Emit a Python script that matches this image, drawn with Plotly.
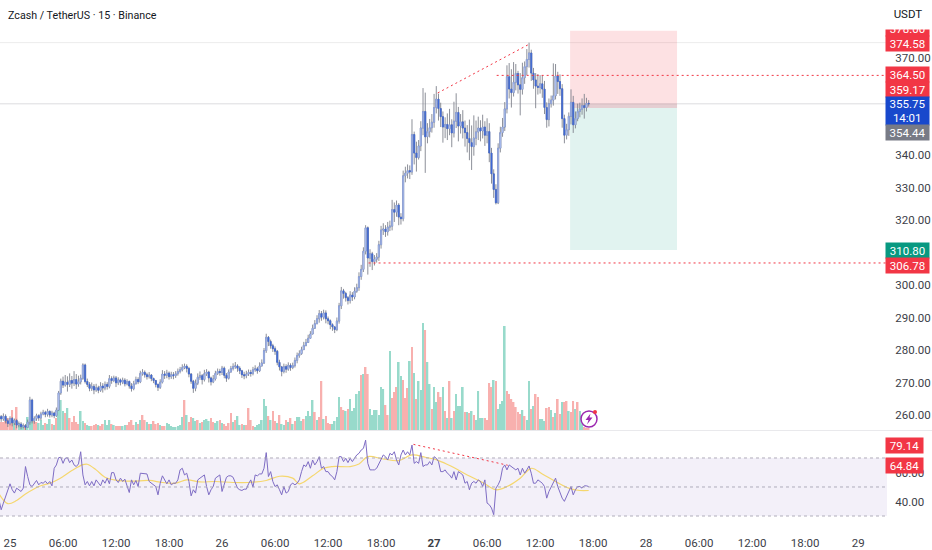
import pandas as pd
import plotly.graph_objects as go
from plotly.subplots import make_subplots

closes = [
    259.5, 258.8, 259.6, 258.2, 257.4, 258.9, 257.6, 258.3, 256.9, 257.2,
    256.4, 256.7, 256.2, 257.8, 264.6, 258.2, 258.9, 259.8, 259.1, 260.3,
    260.8, 260.2, 261.1, 260.0, 260.6, 259.8, 261.5, 266.8, 270.4, 269.2,
    270.1, 269.4, 270.6, 269.8, 270.9, 269.5, 270.2, 271.3, 275.4, 270.3,
    269.4, 268.2, 268.8, 267.7, 268.4, 267.6, 268.9, 268.3, 269.4, 268.8,
    271.2, 270.6, 271.4, 269.9, 270.8, 270.1, 270.7, 269.6, 270.3, 268.9,
    268.1, 269.6, 270.9, 270.2, 272.8, 273.1, 272.4, 271.8, 272.3, 271.2,
    270.6, 269.4, 268.5, 270.1, 272.6, 272.2, 272.9, 271.8, 272.4, 272.1,
    272.7, 273.4, 273.9, 274.6, 275.0, 274.3, 272.6, 270.4, 268.2, 269.8,
    271.6, 272.1, 270.9, 272.7, 273.2, 271.4, 270.2, 271.1, 272.8, 273.4,
    273.1, 274.4, 272.2, 271.3, 273.2, 274.3, 274.9, 275.1, 274.4, 273.6,
    272.4, 272.1, 272.6, 273.1, 272.8, 273.9, 274.2, 273.6, 275.1, 276.0,
    279.8, 283.9, 282.6, 281.3, 280.4, 279.6, 276.2, 274.8, 273.4, 274.9,
    274.1, 275.3, 274.6, 275.2, 276.8, 278.3, 278.9, 280.1, 281.4, 282.3,
    283.6, 284.9, 286.7, 288.1, 289.6, 291.2, 290.1, 291.4, 289.6, 289.0,
    287.8, 287.1, 286.3, 288.9, 293.6, 298.2, 297.4, 296.1, 295.2, 296.9,
    296.3, 298.1, 299.2, 302.6, 304.8, 310.4, 317.6, 308.3, 309.6, 307.2,
    307.9, 308.6, 312.4, 316.9, 317.2, 316.4, 317.8, 318.1, 323.2, 322.4,
    324.6, 320.9, 320.4, 333.6, 334.4, 335.2, 334.8, 346.3, 340.6, 339.2,
    342.8, 348.3, 353.4, 345.6, 347.2, 348.4, 350.1, 354.6, 357.2, 354.3,
    351.8, 348.6, 349.4, 348.1, 349.3, 346.8, 350.4, 353.1, 348.9, 350.2,
    348.3, 346.9, 345.1, 343.8, 342.6, 345.2, 347.1, 348.3, 347.4, 348.6,
    346.1, 347.2, 340.6, 334.2, 329.4, 325.3, 342.1, 346.9, 348.6, 354.2,
    364.1, 360.3, 359.2, 362.4, 365.1, 361.6, 360.2, 363.8, 367.2, 369.4,
    371.4, 365.2, 363.1, 361.2, 360.8, 361.9, 360.3, 354.6, 350.9, 355.8,
    356.9, 358.2, 364.3, 362.6, 360.4, 351.2, 346.1, 347.8, 351.9, 356.2,
    349.3, 351.2, 353.4, 354.1, 355.2, 354.6, 355.9, 355.75,
]
highs = [
    261.0, 260.0, 260.5, 260.2, 258.9, 259.6, 259.4, 258.9, 258.8, 258.0,
    257.8, 257.4, 257.2, 258.6, 265.6, 265.0, 259.6, 260.4, 260.2, 261.0,
    261.6, 261.3, 261.9, 261.4, 261.3, 261.0, 262.3, 267.4, 271.2, 271.8,
    272.3, 271.9, 272.8, 272.0, 273.5, 272.6, 272.1, 272.4, 275.9, 275.8,
    271.2, 270.1, 270.0, 269.5, 269.6, 269.0, 270.1, 269.8, 270.3, 270.1,
    272.3, 271.9, 272.1, 272.0, 271.6, 271.2, 271.5, 271.3, 271.0, 270.6,
    269.8, 270.5, 271.8, 271.6, 273.6, 274.1, 273.7, 273.0, 273.2, 272.6,
    271.5, 270.8, 269.7, 271.0, 273.8, 273.5, 273.9, 273.4, 273.3, 273.2,
    273.5, 274.3, 274.8, 275.6, 275.8, 275.6, 274.8, 272.9, 270.8, 270.9,
    272.8, 273.4, 272.6, 273.9, 274.1, 273.6, 271.8, 272.3, 273.6, 274.3,
    274.2, 275.1, 274.9, 272.9, 274.0, 275.1, 275.9, 276.3, 275.6, 275.0,
    273.9, 273.3, 273.6, 274.0, 273.9, 274.8, 275.3, 274.8, 276.2, 277.1,
    280.6, 285.0, 284.3, 283.2, 281.9, 281.1, 280.0, 277.0, 275.1, 275.8,
    275.6, 276.2, 275.9, 276.1, 277.7, 279.2, 279.9, 281.0, 282.5, 283.4,
    284.7, 285.8, 287.8, 289.2, 290.7, 292.3, 292.0, 292.4, 292.2, 290.3,
    289.4, 288.2, 287.4, 290.0, 294.5, 299.4, 298.8, 297.9, 296.6, 298.1,
    297.8, 299.3, 300.4, 303.9, 306.2, 311.6, 318.4, 318.0, 311.0, 310.2,
    309.2, 309.8, 313.6, 318.2, 319.0, 318.4, 319.4, 319.8, 326.2, 325.4,
    326.0, 325.2, 322.1, 335.2, 336.4, 337.1, 336.8, 351.0, 347.2, 344.1,
    344.6, 350.4, 360.6, 359.2, 349.8, 351.1, 352.6, 358.8, 361.2, 358.9,
    356.1, 353.4, 351.6, 352.8, 354.2, 351.0, 356.4, 359.0, 354.8, 352.6,
    353.8, 350.6, 349.2, 350.9, 349.1, 352.2, 350.6, 351.8, 350.7, 352.4,
    350.4, 351.3, 349.8, 342.2, 335.6, 331.0, 343.6, 348.7, 351.4, 356.3,
    367.6, 368.3, 366.4, 368.6, 368.0, 365.9, 365.2, 368.4, 368.8, 372.6,
    374.58, 372.4, 366.8, 365.2, 364.9, 364.6, 364.5, 362.8, 356.2, 357.4,
    358.3, 368.2, 368.0, 365.6, 364.8, 361.8, 352.4, 349.6, 353.1, 360.2,
    358.2, 353.4, 355.8, 356.1, 357.4, 358.8, 357.6, 356.9,
]
lows = [
    258.6, 257.9, 258.2, 257.4, 256.3, 256.8, 256.5, 256.9, 255.9, 256.2,
    255.6, 255.9, 255.4, 256.1, 257.0, 257.4, 257.3, 258.2, 258.2, 258.4,
    259.9, 259.3, 259.5, 259.2, 259.3, 259.0, 259.4, 261.3, 266.2, 268.3,
    268.7, 267.2, 268.6, 268.1, 268.9, 268.0, 268.7, 269.4, 270.8, 269.7,
    268.6, 267.3, 267.4, 266.4, 267.1, 266.7, 267.1, 266.9, 267.6, 267.8,
    268.2, 269.6, 270.1, 268.6, 269.2, 269.1, 269.5, 268.8, 269.1, 268.1,
    267.2, 267.6, 269.4, 269.5, 269.8, 272.1, 271.5, 270.9, 271.2, 270.4,
    269.8, 268.5, 267.4, 268.0, 269.7, 271.1, 271.3, 270.9, 271.1, 271.0,
    271.4, 272.1, 272.8, 273.4, 274.1, 273.1, 271.6, 269.6, 266.8, 267.3,
    269.2, 270.8, 269.4, 270.3, 272.0, 270.0, 269.1, 269.8, 270.6, 272.3,
    272.1, 272.3, 271.3, 270.2, 270.9, 273.1, 273.7, 274.2, 273.3, 272.6,
    271.4, 271.0, 271.3, 272.0, 271.8, 272.2, 273.3, 272.7, 273.2, 274.9,
    275.7, 279.1, 281.2, 280.4, 279.4, 278.5, 275.3, 273.7, 271.9, 272.8,
    273.0, 273.6, 273.6, 274.1, 274.6, 275.9, 277.6, 278.5, 280.0, 281.1,
    282.2, 283.6, 285.4, 286.5, 287.9, 288.4, 289.0, 289.4, 288.2, 287.9,
    286.4, 285.9, 285.2, 285.8, 288.1, 292.6, 295.8, 294.9, 294.0, 294.3,
    295.1, 295.6, 297.6, 298.2, 301.6, 304.0, 309.4, 303.2, 305.6, 304.6,
    306.0, 306.9, 307.4, 311.2, 315.4, 314.8, 315.2, 316.6, 316.8, 319.4,
    321.0, 318.4, 318.6, 319.6, 331.6, 332.8, 332.6, 333.9, 337.1, 334.9,
    338.6, 341.2, 346.1, 334.5, 343.6, 345.4, 346.9, 348.4, 352.8, 350.6,
    348.6, 343.8, 345.2, 344.6, 346.1, 342.4, 345.4, 348.3, 344.2, 346.6,
    345.1, 342.6, 340.8, 338.4, 335.4, 339.8, 343.0, 344.6, 344.2, 345.1,
    342.8, 343.6, 337.8, 331.2, 326.8, 324.8, 324.9, 340.8, 345.6, 347.4,
    352.8, 357.4, 354.6, 358.0, 359.9, 358.9, 352.2, 358.6, 361.9, 364.6,
    366.9, 362.8, 360.4, 354.4, 358.6, 358.9, 357.6, 352.6, 348.4, 348.8,
    354.6, 355.2, 357.1, 358.8, 358.2, 348.4, 343.6, 344.8, 345.9, 349.4,
    346.8, 348.2, 350.4, 351.6, 352.4, 351.2, 353.4, 354.9,
]
volumes = [
    19, 8, 8, 9, 12, 12, 20, 10, 23, 7,
    5, 5, 5, 13, 14, 12, 9, 8, 7, 10,
    5, 7, 6, 11, 6, 5, 12, 20, 30, 19,
    17, 22, 12, 8, 14, 8, 6, 19, 9, 7,
    5, 4, 4, 5, 6, 5, 4, 6, 10, 5,
    10, 6, 5, 4, 4, 4, 4, 5, 5, 8,
    10, 5, 8, 6, 10, 15, 10, 8, 6, 6,
    9, 6, 7, 5, 4, 4, 7, 6, 4, 3,
    3, 4, 5, 13, 30, 15, 8, 13, 12, 9,
    10, 7, 8, 10, 11, 9, 12, 8, 7, 9,
    10, 7, 6, 4, 7, 17, 8, 10, 14, 5,
    6, 5, 5, 22, 10, 4, 3, 5, 6, 10,
    31, 24, 14, 10, 19, 9, 7, 15, 6, 5,
    10, 8, 12, 6, 9, 13, 13, 9, 11, 14,
    19, 14, 30, 18, 10, 13, 49, 11, 14, 7,
    6, 6, 9, 13, 33, 23, 20, 19, 21, 31,
    19, 22, 36, 39, 55, 56, 63, 56, 21, 15,
    20, 20, 15, 43, 41, 25, 15, 79, 32, 38,
    43, 68, 54, 50, 32, 42, 69, 83, 57, 31,
    49, 40, 107, 100, 68, 46, 21, 43, 28, 38,
    33, 43, 19, 12, 49, 12, 19, 36, 24, 24,
    43, 18, 18, 17, 19, 15, 10, 39, 12, 12,
    12, 10, 47, 43, 50, 49, 21, 26, 29, 104,
    39, 36, 31, 28, 23, 18, 16, 20, 14, 10,
    49, 21, 24, 36, 33, 11, 11, 9, 22, 23,
    20, 13, 17, 31, 16, 28, 28, 29, 19, 18,
    29, 21, 28, 19, 7, 3, 2, 2,
]
vol_dirs = (
    "rrrrrrrgrg" "ggrgggrrgg" "grggrgrggg" "rgrrrrrggr" "ggrrrgrrgg"
    "grgrrrggrr" "rrgrgrrgrg" "rrrgrrgggg" "ggggrgrrgg" "rgrgggrrgg"
    "rgrrrrgrgg" "rgrrrrgggg" "ggrgrrgrgg" "rgrgrgggrg" "gggrgrrgrr"
    "rggggrrgrg" "ggggrgrrgg" "gggggrrgrr" "rggrrrgrgr" "gggrggrggr"
    "rgrgrgrggg" "grgrgrgggg" "rrrrgrgggg" "rrrrrrrgrg" "grgrrgggrr"
    "grgrrgrrgr" "rgrggrrr"
)
rsi = [
    41.2, 34.3, 38.9, 43.5, 49.2, 52.2, 48.1, 45.8, 49.2, 48.1,
    46.9, 49.2, 64.1, 57.2, 51.5, 50.3, 52.2, 54.5, 51.5, 53.1,
    52.6, 54.0, 52.2, 53.8, 50.8, 62.9, 65.2, 70.2, 70.5, 66.3,
    69.8, 70.2, 66.8, 68.6, 65.2, 64.1, 65.9, 74.3, 58.3, 51.5,
    53.8, 50.8, 53.8, 50.8, 54.9, 53.1, 50.8, 54.9, 52.6, 56.1,
    52.2, 59.9, 59.9, 54.9, 53.1, 56.1, 53.8, 55.4, 51.5, 46.2,
    54.9, 51.5, 54.5, 50.3, 59.5, 59.5, 59.5, 59.0, 53.8, 52.6,
    51.5, 50.3, 44.6, 52.6, 57.7, 54.9, 52.2, 54.9, 51.5, 52.6,
    52.6, 54.9, 61.8, 62.9, 58.3, 59.5, 53.8, 43.9, 48.1, 45.8,
    54.9, 56.1, 57.2, 58.3, 50.3, 44.6, 48.1, 50.3, 56.1, 57.2,
    58.3, 46.9, 52.6, 56.7, 57.7, 57.7, 56.7, 52.6, 49.2, 48.1,
    47.6, 48.5, 48.5, 52.2, 54.9, 49.9, 58.3, 57.7, 59.0, 59.0,
    62.9, 73.7, 57.2, 60.6, 53.8, 50.3, 51.5, 48.1, 44.6, 50.3,
    45.8, 46.9, 51.5, 52.6, 51.5, 52.6, 54.9, 60.6, 65.2, 64.1,
    67.5, 62.9, 68.6, 65.2, 67.5, 70.9, 62.9, 64.1, 60.6, 60.6,
    58.3, 57.2, 54.9, 60.6, 70.9, 70.9, 67.5, 69.8, 66.8, 69.8,
    67.5, 69.8, 72.1, 73.2, 75.5, 76.6, 82.3, 66.3, 61.8, 61.8,
    61.8, 62.9, 66.3, 69.8, 72.1, 70.9, 68.6, 73.2, 72.1, 74.3,
    68.6, 65.2, 72.1, 75.5, 72.1, 74.3, 72.1, 78.9, 66.3, 67.5,
    66.3, 73.7, 64.1, 65.2, 65.2, 67.5, 65.2, 70.9, 69.8, 67.5,
    60.6, 60.6, 61.8, 59.5, 58.3, 56.1, 60.6, 54.9, 60.6, 59.5,
    58.3, 52.6, 53.8, 48.1, 52.6, 53.8, 52.6, 54.9, 53.8, 50.3,
    54.9, 38.9, 37.8, 35.5, 30.9, 49.2, 51.5, 54.9, 62.9, 65.2,
    61.8, 65.2, 64.1, 62.9, 61.8, 62.9, 58.3, 62.9, 59.5, 61.8,
    64.5, 59.5, 52.6, 52.6, 54.9, 53.8, 52.6, 50.3, 42.3, 46.9,
    50.3, 52.6, 56.1, 50.3, 45.8, 42.3, 40.1, 43.5, 46.9, 50.3,
    44.6, 48.1, 50.3, 50.3, 49.2, 50.8, 50.8, 50.3,
]
rsi_ma_bars = [0, 4, 8, 12, 18, 24, 29, 33, 38, 40, 44, 48, 53, 60, 68, 74, 80, 85, 91, 98, 106, 113, 121, 127, 133,
               136, 142, 147, 151, 159, 163, 167, 174, 181, 187, 193, 199, 205, 212, 219, 225, 230, 236, 241, 246, 252, 258, 263, 267]
rsi_ma = [45.3, 38.5, 40.7, 45.1, 50.3, 53.1, 57.2, 61.3, 65.4, 65.7, 61.8, 56.7, 54.7, 54.0, 54.5, 53.1, 52.6, 54.9, 53.5, 53.8, 53.1, 53.1, 54.5, 57.4, 56.1,
          52.2, 57.7, 62.9, 64.1, 64.1, 65.9, 70.9, 69.3, 68.2, 72.1, 70.5, 68.2, 64.1, 58.3, 53.1, 48.1, 50.3, 56.1, 62.9, 59.0, 53.8, 49.2, 47.6, 47.6]
price_ticks = [260, 270, 280, 290, 300, 320, 330, 340, 370]
rsi_ticks = [40, 60]
date_ticks = ["2025-10-25 00:00", "2025-10-25 06:00", "2025-10-25 12:00", "2025-10-25 18:00",
              "2025-10-26 00:00", "2025-10-26 06:00", "2025-10-26 12:00", "2025-10-26 18:00",
              "2025-10-27 00:00", "2025-10-27 06:00", "2025-10-27 12:00", "2025-10-27 18:00",
              "2025-10-28 00:00", "2025-10-28 06:00", "2025-10-28 12:00", "2025-10-28 18:00", "2025-10-29 00:00"]
date_labels = ["25", "06:00", "12:00", "18:00", "26", "06:00", "12:00", "18:00", "<b>27</b>",
               "06:00", "12:00", "18:00", "28", "06:00", "12:00", "18:00", "29"]

times = pd.date_range("2025-10-24 22:45", periods=len(closes), freq="15min")
opens = [closes[0]] + closes[:-1]
body_high = [max(o, c) for o, c in zip(opens, closes)]
body_low = [min(o, c) for o, c in zip(opens, closes)]

FONT = "Roboto"
RED = "#f23645"
PLOT_W, PLOT_H = 887, 525
DOTS = "2px,3px"


def px(x):
    return x / PLOT_W


def py(y):
    return (PLOT_H - y) / PLOT_H


fig = make_subplots(rows=2, cols=1, shared_xaxes=True, vertical_spacing=0.002,
                    specs=[[{"secondary_y": True}], [{}]])

vol_colors = ["#98dacb" if d == "g" else "#f8b0ae" for d in vol_dirs]
fig.add_trace(go.Bar(x=times, y=volumes, marker=dict(color=vol_colors, line_width=0)), row=1, col=1, secondary_y=False)

# wicks and bodies are separate traces so the wick can stay grey
fig.add_trace(go.Candlestick(x=times, open=opens, high=highs, low=lows, close=closes, whiskerwidth=0,
                             increasing=dict(line=dict(color="#7f828c", width=0.9), fillcolor="#7f828c"),
                             decreasing=dict(line=dict(color="#7f828c", width=0.9), fillcolor="#7f828c")),
              row=1, col=1, secondary_y=True)
fig.add_trace(go.Candlestick(x=times, open=opens, high=body_high, low=body_low, close=closes, whiskerwidth=0,
                             increasing=dict(line=dict(color="#7d9ae6", width=0.6), fillcolor="#d3dcf7"),
                             decreasing=dict(line=dict(color="#3f6ad8", width=0.6), fillcolor="#3f6ad8")),
              row=1, col=1, secondary_y=True)

fig.add_trace(go.Scatter(x=times[rsi_ma_bars], y=rsi_ma, mode="lines",
                         line=dict(color="#f5d76e", width=1.2, shape="spline")), row=2, col=1)
fig.add_trace(go.Scatter(x=times, y=rsi, mode="lines", line=dict(color="#7e6cc4", width=1)), row=2, col=1)

shapes = [
    # position box
    dict(type="rect", xref="x", yref="y2", x0="2025-10-27 15:24", x1="2025-10-28 03:30", y0=354.44, y1=378.2,
         fillcolor="rgba(242,54,69,0.15)", line_width=0, layer="below"),
    dict(type="rect", xref="x", yref="y2", x0="2025-10-27 15:24", x1="2025-10-28 03:30", y0=310.8, y1=354.44,
         fillcolor="rgba(8,153,129,0.12)", line_width=0, layer="below"),
    dict(type="rect", xref="x", yref="y2", x0="2025-10-27 15:24", x1="2025-10-28 03:30", y0=354.44, y1=355.75,
         fillcolor="rgba(120,123,134,0.18)", line_width=0, layer="below"),
    # level lines
    dict(type="line", xref="paper", yref="y2", x0=0, x1=1, y0=374.58, y1=374.58,
         line=dict(color="#ececec", width=1), layer="below"),
    dict(type="line", xref="paper", yref="y2", x0=0, x1=1, y0=355.75, y1=355.75,
         line=dict(color="#dcdcdf", width=1), layer="below"),
    dict(type="line", xref="x", yref="y2", x0="2025-10-26 16:35", x1="2025-10-29 03:16", y0=306.78, y1=306.78,
         line=dict(color=RED, width=1, dash=DOTS)),
    dict(type="line", xref="x", yref="y2", x0="2025-10-27 07:05", x1="2025-10-29 03:16", y0=364.5, y1=364.5,
         line=dict(color=RED, width=1, dash=DOTS)),
    dict(type="line", xref="x", yref="y2", x0="2025-10-27 00:25", x1="2025-10-27 10:50", y0=359.1, y1=374.2,
         line=dict(color=RED, width=1, dash=DOTS)),
    # RSI band
    dict(type="rect", xref="paper", yref="y3", x0=0, x1=1, y0=30, y1=70,
         fillcolor="rgba(126,87,194,0.09)", line_width=0, layer="below"),
    dict(type="line", xref="x", yref="y3", x0="2025-10-26 21:40", x1="2025-10-27 08:20", y0=79.4, y1=65,
         line=dict(color=RED, width=1, dash=DOTS)),
    # pane separator
    dict(type="line", xref="paper", yref="paper", x0=0, x1=932 / PLOT_W, y0=py(430.5), y1=py(430.5),
         line=dict(color="#e9e9ec", width=1)),
    # flash icon
    dict(type="circle", xref="paper", yref="paper", x0=px(581), x1=px(597), y0=py(427), y1=py(411),
         line=dict(color="#9c27b0", width=1.5), fillcolor="white"),
    dict(type="path", xref="paper", yref="paper", fillcolor="#9c27b0", line_width=0,
         path=f"M {px(590.5)} {py(413.5)} L {px(585.5)} {py(420)} L {px(588.5)} {py(420)} L {px(587)} {py(424.5)} "
              f"L {px(592.5)} {py(417.5)} L {px(589.5)} {py(417.5)} Z"),
    dict(type="circle", xref="paper", yref="paper", x0=px(593), x1=px(597), y0=py(414), y1=py(410),
         fillcolor=RED, line_width=0),
]
for level in [70, 50, 30]:
    shapes.append(dict(type="line", xref="paper", yref="y3", x0=0, x1=1, y0=level, y1=level,
                       line=dict(color="#a8a5b3", width=0.9, dash="3px,3px")))


def tag(text, y, color, height=15, width=43, x=907.5):
    return dict(text=text, xref="paper", yref="paper", x=px(x), y=py(y), xanchor="center", yanchor="middle",
                showarrow=False, width=width, height=height, bgcolor=color, borderpad=0,
                font=dict(family=FONT, size=11.5, color="#ffffff"))


annotations = [
    tag("378.00", 29, RED),
    dict(text="USDT", xref="paper", yref="paper", x=px(908), y=py(14), xanchor="center", yanchor="middle",
         showarrow=False, width=44, height=28, bgcolor="white", font=dict(family=FONT, size=11.5, color="#131722")),
    tag("374.58", 43.5, RED),
    tag("364.50", 74, RED),
    tag("359.17", 89.5, RED),
    tag("355.75<br>14:01", 111, "#1848cc", height=28),
    tag("354.44", 133, "#787b86"),
    tag("310.80", 250, "#089981"),
    tag("306.78", 265, RED),
    tag("79.14", 445, RED, width=37, x=904.5),
    tag("64.84", 465.5, RED, width=37, x=904.5),
    dict(text="Zcash / TetherUS · 15 · Binance", xref="paper", yref="paper", x=px(6), y=py(15), xanchor="left",
         yanchor="middle", showarrow=False, font=dict(family=FONT, size=10.7, color="#131722")),
]

fig.update_layout(
    width=932, height=550, paper_bgcolor="white", plot_bgcolor="white", showlegend=False,
    margin=dict(l=0, r=932 - PLOT_W, t=0, b=550 - PLOT_H), bargap=0.25,
    font=dict(family=FONT, size=11.5, color="#3c4048"),
    shapes=shapes, annotations=annotations,
    xaxis=dict(domain=[0, 1], range=["2025-10-24 22:52", "2025-10-29 03:16"], rangeslider_visible=False,
               showgrid=False, zeroline=False, showticklabels=False, ticks="", showline=False),
    xaxis2=dict(domain=[0, 1], range=["2025-10-24 22:52", "2025-10-29 03:16"], rangeslider_visible=False,
                showgrid=False, zeroline=False, tickmode="array", tickvals=date_ticks, ticktext=date_labels,
                ticks="outside", ticklen=7, tickcolor="rgba(0,0,0,0)", showline=False, tickangle=0),
    yaxis=dict(domain=[py(430), 1], range=[0, 430], visible=False, fixedrange=True),
    yaxis2=dict(range=[255.38, 387.7], side="right", showgrid=False, zeroline=False, tickmode="array",
                tickvals=price_ticks, ticktext=[f"{v:.2f}" for v in price_ticks], ticks="outside", ticklen=5,
                tickcolor="rgba(0,0,0,0)", showline=False),
    yaxis3=dict(domain=[0, py(431)], range=[23.8, 88.6], side="right", showgrid=False, zeroline=False,
                tickmode="array", tickvals=rsi_ticks, ticktext=[f"{v:.2f}" for v in rsi_ticks], ticks="outside",
                ticklen=5, tickcolor="rgba(0,0,0,0)", showline=False),
)

fig.write_html("out.html", config={"displayModeBar": False}, post_script="document.body.style.margin='0';")
